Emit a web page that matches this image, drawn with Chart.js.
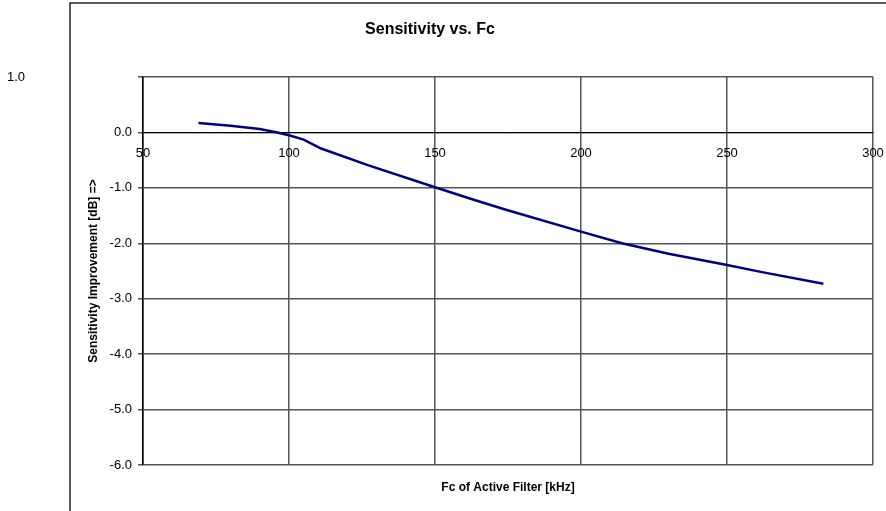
<!DOCTYPE html>
<html>
<head>
<meta charset="utf-8">
<script src="https://cdn.jsdelivr.net/npm/chart.js@4/dist/chart.umd.min.js"></script>
<style>
  html, body { margin: 0; padding: 0; background: #fff; }
  canvas { display: block; }
</style>
</head>
<body>
<canvas id="c" width="886" height="511"></canvas>
<script>
// ---- data ----
const chartTitle = 'Sensitivity vs. Fc';
const xAxisTitle = 'Fc of Active Filter [kHz]';
const yAxisTitle = 'Sensitivity Improvement [dB] =>';
const freqKHz = [69, 80, 90, 96, 100, 105, 111, 127, 150, 163, 174, 200, 214, 230, 250, 262, 283];
const sensDb  = [0.17, 0.12, 0.06, 0.00, -0.05, -0.13, -0.29, -0.59, -0.99, -1.21, -1.39, -1.79, -2.00, -2.19, -2.39, -2.52, -2.73];
const xTicks = [50, 100, 150, 200, 250, 300];
const yTicks = [-6, -5, -4, -3, -2, -1, 0, 1];

const points = freqKHz.map((f, i) => ({ x: f, y: sensDb[i] }));

const FONT = '"Liberation Sans", Arial, sans-serif';
const GRID = '#555555';

const decorPlugin = {
  id: 'decor',
  afterLayout(chart) {
    if (chart.titleBlock) { chart.titleBlock.left = 0; chart.titleBlock.right = 860; }
  },
  beforeDraw(chart) {
    const ctx = chart.ctx;
    ctx.save();
    ctx.strokeStyle = '#000';
    ctx.lineWidth = 1.3;
    ctx.strokeRect(70, 3, 1000, 1000);
    ctx.restore();
  },
  afterDraw(chart) {
    // the top tick label "1.0" sits far left of the axis in the reference
    const ctx = chart.ctx;
    const top = yTicks[yTicks.length - 1];
    const y = chart.scales.y.getPixelForValue(top);
    ctx.save();
    ctx.font = '13px ' + FONT;
    ctx.fillStyle = '#000';
    ctx.textAlign = 'left';
    ctx.textBaseline = 'middle';
    ctx.fillText(top.toFixed(1), 7, y);
    ctx.restore();
  }
};

new Chart(document.getElementById('c'), {
  type: 'line',
  data: {
    datasets: [{
      data: points,
      borderColor: '#000080',
      borderWidth: 2.5,
      pointRadius: 0,
      tension: 0,
      fill: false
    }]
  },
  options: {
    responsive: false,
    animation: false,
    devicePixelRatio: 1,
    layout: { padding: { left: 0, right: 13, top: 0, bottom: 0 } },
    plugins: {
      legend: { display: false },
      tooltip: { enabled: false },
      title: {
        display: true,
        text: chartTitle,
        color: '#000',
        font: { family: FONT, size: 16, weight: 'bold' },
        padding: { top: 20, bottom: 37.8 }
      }
    },
    scales: {
      x: {
        type: 'linear',
        position: { y: 0 },
        min: 50, max: 300,
        afterBuildTicks: (s) => { s.ticks = xTicks.map(v => ({ value: v })); },
        afterFit: (s) => { s.paddingLeft = 0; s.paddingRight = 0; },
        ticks: {
          color: '#000',
          font: { family: FONT, size: 13 },
          padding: 13.5,
          maxRotation: 0,
          callback: (v) => String(v)
        },
        grid: { color: GRID, lineWidth: 1.5, drawTicks: false },
        border: { display: true, color: '#000', width: 1 },
        title: { display: false }
      },
      xt: {
        type: 'linear',
        position: 'bottom',
        axis: 'x',
        min: 50, max: 300,
        afterFit: (s) => { s.paddingLeft = 0; s.paddingRight = 0; },
        ticks: { display: false },
        grid: { display: false, drawTicks: false },
        border: { display: false },
        title: {
          display: true,
          text: xAxisTitle,
          color: '#000',
          font: { family: FONT, size: 12, weight: 'bold' },
          padding: { top: 15.8, bottom: 15.8 }
        }
      },
      y: {
        type: 'linear',
        position: 'left',
        min: -6, max: 1,
        afterBuildTicks: (s) => { s.ticks = yTicks.map(v => ({ value: v })); },
        afterFit: (s) => { s.width = 143; },
        ticks: {
          color: '#000',
          font: { family: FONT, size: 13 },
          padding: 6,
          callback: (v) => (v === yTicks[yTicks.length - 1] ? '' : Number(v).toFixed(1))
        },
        grid: { color: GRID, lineWidth: 1.5, drawTicks: true, tickLength: 5 },
        border: { display: true, color: '#000', width: 1.5 },
        title: {
          display: true,
          text: yAxisTitle,
          color: '#000',
          font: { family: FONT, size: 12, weight: 'bold' },
          padding: { top: 86, bottom: 0 }
        }
      }
    }
  },
  plugins: [decorPlugin]
});
</script>
</body>
</html>
